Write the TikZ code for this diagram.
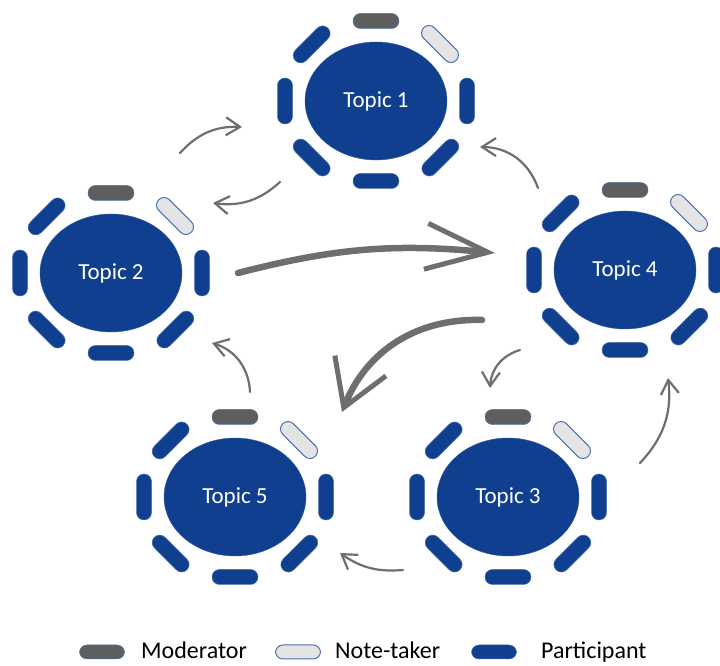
\documentclass[tikz,border=0pt]{standalone}
\usepackage{fontspec}
\setmainfont{Carlito}
\usetikzlibrary{shapes.geometric, arrows.meta, calc}
\definecolor{tableblue}{HTML}{0F3F8E}
\definecolor{seatedge}{HTML}{4A72B0}
\definecolor{modgray}{HTML}{5E5E5E}
\definecolor{notegray}{HTML}{E4E4E4}
\definecolor{brushgray}{HTML}{6E6E6E}

\begin{document}
\begin{tikzpicture}[x=1pt, y=1pt,
    table/.style={ellipse, fill=tableblue, draw=tableblue!85!white,
        minimum width=142pt, minimum height=118pt, inner sep=0pt,
        text=white, font=\fontsize{23}{27}\selectfont},
    seat/.style={rectangle, rounded corners=7.4pt, minimum width=46pt,
        minimum height=15pt, inner sep=0pt, fill=tableblue, draw=seatedge, line width=0.5pt},
    modseat/.style={seat, fill=modgray},
    noteseat/.style={seat, fill=notegray, line width=1pt},
    brush/.style={draw=brushgray, line width=2.2pt, line cap=round,
        -{Straight Barb[length=14pt, width=18pt, line width=2.2pt]}},
    bigbrush/.style={draw=brushgray, line width=6.5pt, line cap=round},
    legendtext/.style={anchor=base west, inner sep=0pt, font=\fontsize{24}{28}\selectfont}
  ]
    \useasboundingbox (0,0) rectangle (720,666);

    % tables
    \node[table] (t1) at (376,565) {Topic 1};
    \node[table] (t2) at (111,393) {Topic 2};
    \node[table] (t3) at (508,169) {Topic 3};
    \node[table] (t4) at (625,396) {Topic 4};
    \node[table] (t5) at (235,169) {Topic 5};

    % seats round every table
    \foreach \t in {t1,t2,t3,t4,t5} {
        \node[modseat] (\t-mod) at ($(\t)+(0,80)$) {};
        \node[noteseat, rotate=-45] (\t-note) at ($(\t)+(64,57)$) {};
        \foreach \a in {0,135,180,225,270,315}
            \node[seat, rotate=\a-90] (\t-s\a) at ($(\t)+({91*cos(\a)},{80*sin(\a)})$) {};
    }

    % brush arrows
    \coordinate (a1-from) at (180,513);
    \coordinate (a1-to) at (242,539);
    \draw[brush] (a1-from) to[bend left=25] (a1-to);

    \coordinate (a2-from) at (280,484);
    \coordinate (a2-to) at (213,463);
    \draw[brush] (a2-from) to[bend left=25] (a2-to);

    \coordinate (a3-from) at (238,393);
    \coordinate (a3-to) at (495,413);
    \draw[bigbrush, -{Straight Barb[length=62pt, width=46pt, line width=5pt]}]
        (a3-from) to[bend left=10] (a3-to);

    \coordinate (a4-from) at (482,346);
    \coordinate (a4-to) at (342,254);
    \draw[bigbrush, -{Straight Barb[length=45pt, width=55pt, line width=5pt]}]
        (a4-from) to[bend right=35] (a4-to);

    \coordinate (a5-from) at (250,274);
    \coordinate (a5-to) at (212,323);
    \draw[brush] (a5-from) to[bend right=35] (a5-to);

    \coordinate (a6-from) at (403,96);
    \coordinate (a6-to) at (340,113);
    \draw[brush] (a6-from) to[bend left=20] (a6-to);

    \coordinate (a7-from) at (520,316);
    \coordinate (a7-to) at (490,278);
    \draw[brush] (a7-from) to[bend right=35] (a7-to);

    \coordinate (a8-from) at (640,203);
    \coordinate (a8-to) at (668,288);
    \draw[brush] (a8-from) to[bend right=25] (a8-to);

    \coordinate (a9-from) at (538,478);
    \coordinate (a9-to) at (480,519);
    \draw[brush] (a9-from) to[bend right=35] (a9-to);

    % legend
    \node[modseat, minimum width=45pt, minimum height=14pt] (key-mod) at (102,14) {};
    \node[legendtext] (key-mod-text) at (141,7) {Moderator};
    \node[noteseat, minimum width=45pt, minimum height=14pt] (key-note) at (298,14) {};
    \node[legendtext] (key-note-text) at (335,7) {Note-taker};
    \node[seat, minimum width=45pt, minimum height=14pt] (key-part) at (494,14) {};
    \node[legendtext] (key-part-text) at (541,7) {Participant};
\end{tikzpicture}
\end{document}
